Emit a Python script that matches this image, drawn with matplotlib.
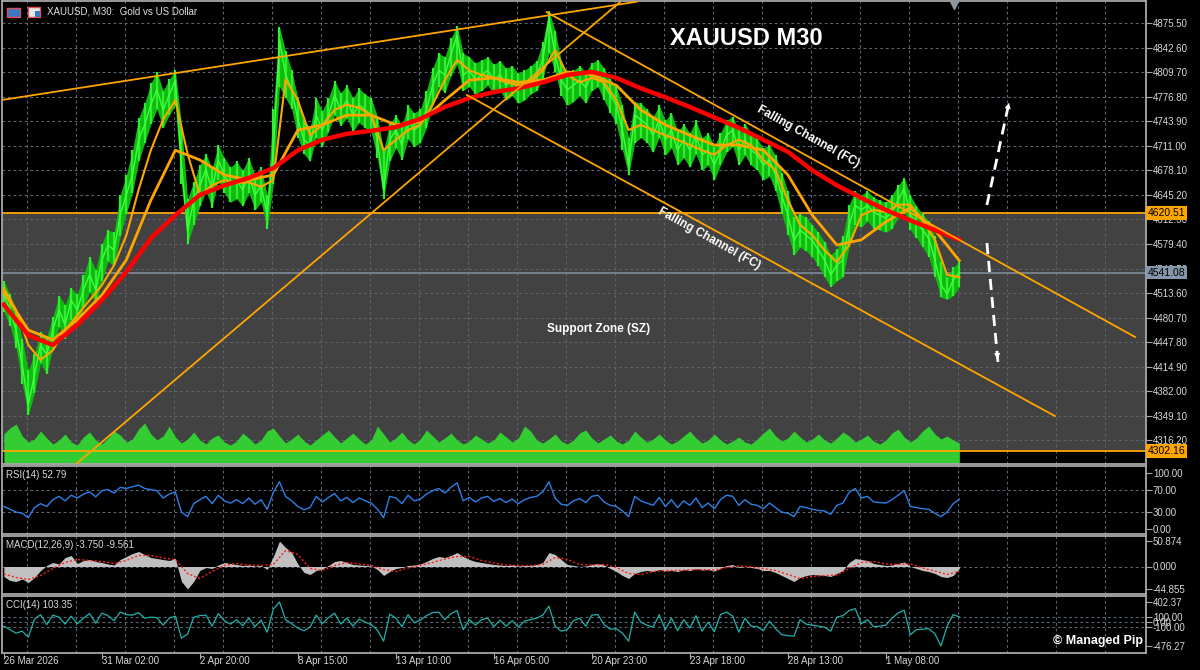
import numpy as np
import matplotlib
matplotlib.use('Agg')
import matplotlib.pyplot as plt
import matplotlib.transforms as mtransforms
from matplotlib.patches import Rectangle, FancyArrowPatch

plt.rcParams['font.family'] = ['Liberation Sans', 'DejaVu Sans']

# ---- data (one sample ~ every 6 px, 16 samples per time label)
close = [4511, 4491, 4464, 4417, 4364, 4404, 4444, 4431, 4464, 4491,
         4471, 4504, 4491, 4518, 4538, 4518, 4558, 4578, 4571, 4618,
         4645, 4672, 4719, 4739, 4766, 4786, 4759, 4779, 4799, 4685,
         4598, 4638, 4658, 4679, 4652, 4692, 4672, 4658, 4665, 4652,
         4672, 4645, 4658, 4618, 4705, 4853, 4806, 4786, 4746, 4719,
         4712, 4752, 4732, 4752, 4779, 4759, 4772, 4752, 4766, 4759,
         4752, 4719, 4652, 4719, 4732, 4712, 4746, 4732, 4739, 4759,
         4792, 4812, 4806, 4833, 4859, 4806, 4812, 4799, 4806, 4812,
         4799, 4806, 4792, 4799, 4786, 4792, 4799, 4806, 4826, 4882,
         4833, 4799, 4786, 4792, 4799, 4789, 4806, 4810, 4792, 4779,
         4766, 4732, 4685, 4752, 4746, 4739, 4725, 4746, 4719, 4732,
         4705, 4719, 4705, 4725, 4699, 4705, 4685, 4705, 4725, 4732,
         4705, 4719, 4705, 4699, 4685, 4692, 4672, 4645, 4618, 4584,
         4598, 4591, 4584, 4571, 4558, 4538, 4551, 4558, 4605, 4631,
         4625, 4631, 4622, 4618, 4614, 4622, 4638, 4654, 4618, 4609,
         4598, 4587, 4558, 4525, 4512, 4531, 4541.08]

high = [4530, 4512, 4490, 4452, 4410, 4432, 4462, 4455, 4482, 4510,
        4498, 4520, 4512, 4538, 4562, 4545, 4580, 4598, 4595, 4645,
        4672, 4705, 4748, 4768, 4795, 4810, 4785, 4800, 4812, 4740,
        4640, 4662, 4685, 4700, 4680, 4712, 4695, 4682, 4690, 4678,
        4695, 4672, 4682, 4645, 4760, 4870, 4838, 4812, 4775, 4745,
        4735, 4775, 4758, 4775, 4798, 4782, 4792, 4775, 4788, 4780,
        4775, 4750, 4705, 4740, 4752, 4738, 4765, 4755, 4760, 4785,
        4815, 4835, 4830, 4855, 4872, 4835, 4830, 4822, 4826, 4830,
        4820, 4825, 4815, 4818, 4808, 4812, 4818, 4825, 4850, 4892,
        4865, 4825, 4808, 4812, 4818, 4810, 4822, 4826, 4815, 4800,
        4790, 4765, 4722, 4770, 4768, 4760, 4750, 4765, 4745, 4755,
        4730, 4740, 4728, 4745, 4722, 4728, 4710, 4728, 4745, 4750,
        4732, 4740, 4728, 4720, 4708, 4712, 4698, 4675, 4650, 4615,
        4620, 4615, 4605, 4595, 4582, 4565, 4572, 4590, 4632, 4650,
        4645, 4650, 4642, 4638, 4635, 4645, 4658, 4668, 4645, 4630,
        4620, 4610, 4590, 4555, 4535, 4548, 4555]

low = [4488, 4470, 4440, 4392, 4350, 4380, 4420, 4405, 4440, 4468,
       4452, 4478, 4470, 4495, 4515, 4500, 4530, 4556, 4550, 4590,
       4620, 4648, 4690, 4715, 4740, 4760, 4735, 4752, 4765, 4660,
       4580, 4605, 4630, 4650, 4628, 4665, 4648, 4635, 4640, 4630,
       4648, 4625, 4635, 4600, 4660, 4790, 4775, 4760, 4722, 4700,
       4690, 4722, 4710, 4730, 4752, 4738, 4748, 4730, 4742, 4735,
       4728, 4695, 4640, 4690, 4708, 4692, 4720, 4710, 4715, 4735,
       4765, 4790, 4782, 4805, 4820, 4785, 4790, 4780, 4785, 4792,
       4780, 4785, 4772, 4778, 4768, 4772, 4780, 4785, 4800, 4835,
       4810, 4778, 4765, 4770, 4778, 4768, 4785, 4790, 4772, 4755,
       4740, 4705, 4672, 4715, 4722, 4715, 4702, 4722, 4698, 4708,
       4685, 4695, 4682, 4700, 4678, 4685, 4665, 4685, 4702, 4710,
       4685, 4698, 4685, 4678, 4665, 4670, 4650, 4620, 4592, 4565,
       4575, 4570, 4562, 4550, 4535, 4522, 4530, 4535, 4575, 4605,
       4602, 4610, 4600, 4598, 4595, 4600, 4615, 4625, 4598, 4588,
       4575, 4562, 4535, 4508, 4505, 4510, 4522]

# fast orange MA, every 2nd sample
ma_fast = [4520, 4491, 4444, 4424, 4437, 4464, 4484, 4504, 4524, 4551,
           4591, 4652, 4705, 4746, 4772, 4700, 4645, 4658, 4665, 4661,
           4662, 4656, 4665, 4800, 4772, 4725, 4739, 4759, 4766, 4762,
           4752, 4705, 4719, 4732, 4739, 4766, 4799, 4826, 4812, 4806,
           4802, 4796, 4792, 4796, 4812, 4839, 4806, 4796, 4802, 4796,
           4772, 4732, 4739, 4732, 4725, 4719, 4712, 4705, 4699, 4712,
           4719, 4712, 4692, 4678, 4638, 4605, 4591, 4571, 4555, 4578,
           4618, 4625, 4622, 4632, 4632, 4611, 4585, 4538, 4535]

# slow orange MA, every 4th sample
ma_slow = [4515, 4464, 4451, 4478, 4511, 4558, 4638, 4705, 4692, 4672,
           4665, 4672, 4732, 4739, 4752, 4752, 4739, 4743, 4772, 4799,
           4802, 4796, 4799, 4810, 4806, 4792, 4759, 4739, 4725, 4712,
           4712, 4705, 4672, 4618, 4578, 4585, 4609, 4628, 4598, 4557]

# red MA, every 4th sample
ma_red = [4498, 4457, 4444, 4471, 4504, 4542, 4587, 4618, 4645, 4658,
          4668, 4681, 4705, 4719, 4727, 4731, 4736, 4747, 4763, 4775,
          4783, 4788, 4796, 4806, 4810, 4802, 4788, 4776, 4763, 4749,
          4735, 4719, 4703, 4678, 4658, 4641, 4625, 4611, 4598, 4585]

# tick volume (thousands)
volume = [30, 36, 40, 28, 22, 25, 33, 26, 20, 24,
          30, 22, 19, 27, 32, 24, 20, 26, 33, 29,
          22, 25, 35, 41, 30, 24, 28, 38, 27, 21,
          25, 32, 24, 20, 26, 29, 22, 19, 23, 31,
          26, 20, 24, 33, 36, 28, 21, 25, 30, 23,
          19, 24, 29, 34, 27, 21, 26, 31, 25, 20,
          24, 38, 30, 22, 26, 32, 24, 20, 25, 34,
          28, 22, 26, 31, 24, 20, 23, 29, 25, 21,
          24, 32, 27, 22, 26, 38, 33, 24, 21, 25,
          30, 23, 20, 24, 31, 34, 26, 21, 25, 29,
          23, 20, 24, 33, 27, 22, 25, 30, 24, 20,
          23, 28, 33, 26, 21, 24, 30, 24, 20, 23,
          27, 22, 20, 25, 31, 36, 28, 23, 26, 33,
          27, 22, 25, 30, 24, 21, 26, 32, 28, 22,
          25, 29, 23, 20, 24, 31, 35, 27, 22, 26,
          33, 38, 30, 25, 28, 24, 21]

rsi = [40, 35, 30, 28, 20, 38, 45, 40, 52, 58,
       50, 60, 55, 62, 66, 57, 68, 70, 64, 74,
       72, 75, 78, 72, 70, 68, 55, 62, 66, 30,
       22, 45, 52, 58, 45, 60, 50, 46, 52, 45,
       55, 44, 52, 35, 65, 84, 58, 50, 40, 34,
       38, 58, 48, 56, 63, 50, 56, 47, 55, 50,
       46, 35, 20, 58, 55, 45, 60, 50, 53, 62,
       68, 72, 64, 74, 82, 50, 56, 48, 55, 58,
       49, 54, 47, 53, 45, 52, 56, 58, 66, 84,
       55, 44, 42, 50, 54, 47, 58, 60, 48, 42,
       40, 32, 22, 58, 50, 46, 42, 56, 40, 52,
       38, 50, 42, 55, 38, 46, 36, 52, 60, 58,
       42, 52, 44, 42, 36, 46, 38, 30, 28, 22,
       40, 38, 35, 33, 32, 26, 42, 46, 65, 72,
       55, 58, 48, 47, 46, 52, 60, 68, 40, 38,
       36, 35, 28, 22, 30, 45, 52.79]

macd = [-20, -28, -30, -25, -32, -22, -8, 2, 8, 5,
        18, 22, 6, 12, 14, 10, 8, 5, 3, 14,
        20, 26, 30, 24, 18, 16, 14, 12, 16, -30,
        -44.855, -30, -8, -2, -4, 3, 8, 6, 4, 2,
        3, 1, 2, -6, 20, 50.874, 38, 28, 5, -12,
        -16, -8, -5, 2, 10, 12, 8, 4, 3, 2,
        1, -6, -18, -10, -4, -2, 2, 3, 5, 10,
        16, 20, 18, 22, 28, 20, 14, 10, 8, 6,
        4, 3, 2, 3, 1, 2, 2, 4, 8, 28,
        24, 14, 4, 2, 0, 1, 4, 6, 3, -4,
        -10, -18, -24, -14, -10, -8, -10, -6, -9, -8,
        -10, -6, -8, -4, -7, -6, -9, -4, 2, 4,
        -2, 0, -2, -4, -8, -8, -12, -18, -24, -30,
        -22, -18, -16, -17, -18, -20, -14, -8, 8, 16,
        14, 12, 6, 4, 2, 3, 6, 9, 0, -4,
        -8, -10, -14, -20, -22, -18, -3.75]

# signal line, every 2nd sample
macd_signal = [-15, -22, -26, -18, -4, 8, 14, 12, 10, 6,
               12, 22, 22, 17, 14, -14, -24, -10, 2, 6,
               3, 2, 4, 32, 24, -4, -8, 2, 8, 5,
               2, -6, -10, -3, 2, 8, 15, 20, 20, 12,
               7, 3, 2, 2, 4, 18, 14, 4, 3, 4,
               -2, -14, -16, -10, -8, -8, -7, -6, -7, -2,
               1, -1, -4, -8, -16, -24, -20, -18, -17, -4,
               8, 10, 5, 4, 5, -3, -9, -16, -9.561]

cci = [-80, -150, -220, -180, -300, 60, 150, -50, 140, 100,
       -40, 120, -30, 80, 170, -20, 180, 130, 30, 200,
       150, 140, 190, 80, 100, 90, -60, 80, 120, -320,
       -240, 100, 130, 140, -80, 170, 30, -40, 50, -70,
       80, -90, 40, -200, 260, 402.37, 50, -30, -120, -170,
       -100, 140, -30, 90, 180, -40, 80, -80, 60, 0,
       -50, -160, -380, 160, 80, -90, 150, -10, 40, 130,
       190, 200, 50, 170, 230, -150, 50, -60, 50, 80,
       -90, 40, -80, 30, -100, 20, 50, 80, 140, 320,
       -80, -180, -150, 30, 80, -80, 140, 150, -50, -140,
       -130, -220, -380, 200, 0, -60, -100, 150, -150, 80,
       -170, 50, -120, 130, -180, 0, -190, 150, 200, 120,
       -200, 80, -80, -90, -170, 20, -130, -250, -270, -280,
       50, -40, -60, -80, -100, -180, 100, 130, 230, 270,
       -30, 50, -90, -80, -60, 80, 180, 240, -250, -150,
       -140, -130, -230, -476.27, -80, 150, 103.35]

time_labels = ['26 Mar 2026', '31 Mar 02:00', '2 Apr 20:00', '8 Apr 15:00',
               '13 Apr 10:00', '16 Apr 05:00', '20 Apr 23:00', '23 Apr 18:00',
               '28 Apr 13:00', '1 May 08:00']
price_ticks = [4875.50, 4842.60, 4809.70, 4776.80, 4743.90, 4711.00, 4678.10,
               4645.20, 4612.30, 4579.40, 4546.50, 4513.60, 4480.70, 4447.80,
               4414.90, 4382.00, 4349.10, 4316.20]

zone_top = 4620.51
zone_bottom = 4302.16
last_price = 4541.08

# trend lines as (sample, price) anchors
top_line = [(-0.6, 4772.0), (103.3, 4904.0)]
rising_line = [(11.6, 4283.2), (100.6, 4903.6)]
fc_upper = [(88.6, 4890.2), (184.7, 4454.7)]
fc_lower = [(75.6, 4779.0), (171.6, 4348.8)]
arrow_up = [(160.5, 4631.6), (164.2, 4772.3)]
arrow_down = [(160.5, 4580.7), (162.3, 4421.2)]

# ---- layout
W, H = 1200, 670
XMIN = -0.3
XMAX = XMIN + 1144 / 6.125
GRID = '#5a6470'
xs = np.arange(len(close))

fig = plt.figure(figsize=(12, 6.7), dpi=100, facecolor='black')


def panel(top, bottom):
    ax = fig.add_axes([2 / W, 1 - bottom / H, 1144 / W, (bottom - top) / H])
    ax.set_facecolor('black')
    for s in ax.spines.values():
        s.set_color('#a8a8a8')
        s.set_linewidth(1.3)
    ax.yaxis.tick_right()
    ax.tick_params(axis='y', colors='#a8a8a8', labelcolor='#d8d8d8',
                   labelsize=7, length=4, width=0.8, pad=1)
    ax.tick_params(axis='x', bottom=False, labelbottom=False)
    ax.set_xlim(XMIN, XMAX)
    for g in np.arange(3.75, XMAX, 8):
        ax.axvline(g, color=GRID, lw=0.8, ls=(0, (2.5, 2.5)), zorder=0.5)
    return ax


ax = panel(1, 464)
rsi_ax = panel(466, 534)
macd_ax = panel(536, 594)
cci_ax = panel(596, 653)

# ---- main price panel
y0, y1 = 4284.5, 4905.0
ax.set_ylim(y0, y1)
ax.set_yticks(price_ticks)
ax.set_yticklabels(['%.2f' % p for p in price_ticks])
for p in price_ticks:
    ax.axhline(p, color=GRID, lw=0.8, ls=(0, (2.5, 2.5)), zorder=0.5)

ax.axhspan(zone_bottom, zone_top, color='#424242', lw=0, zorder=0)

vol_top = y0 + np.array(volume) * (y1 - y0) / 463
ax.fill_between(xs, y0, vol_top, color='#33cc33', lw=0, zorder=1)

ax.axhline(zone_top, color='#ffa500', lw=1.3, zorder=2)
ax.axhline(zone_bottom, color='#ffa500', lw=1.3, zorder=2)
ax.axhline(last_price, color='#7d8b99', lw=1.2, zorder=2)

# price bars: high-low range, bar sticks and the close line
ax.fill_between(xs, low, high, color='#12b812', lw=0, zorder=3)
ax.vlines(xs, low, high, color='#2cf02c', lw=1.6, zorder=3.05)
ax.plot(xs, close, color='#40ff40', lw=1.0, zorder=3.1)
ax.plot(xs[::4], ma_slow, color='#ffa500', lw=2.0, zorder=4)
ax.plot(xs[::2], ma_fast, color='#ffa500', lw=1.5, zorder=4)
ax.plot(xs[::4], ma_red, color='#ff0000', lw=3.2, zorder=4.2)

for line in (top_line, rising_line, fc_upper, fc_lower):
    ax.plot([line[0][0], line[1][0]], [line[0][1], line[1][1]],
            color='#ffa500', lw=1.3, zorder=5)

for (tx, ty), (hx, hy) in (arrow_up, arrow_down):
    ax.plot([tx, hx], [ty, hy], color='white', lw=2, ls=(0, (4, 2.5)), zorder=6)
    ax.add_patch(FancyArrowPatch((tx + (hx - tx) * 0.85, ty + (hy - ty) * 0.85), (hx, hy),
                                 arrowstyle='-|>', mutation_scale=11, color='white',
                                 lw=0, zorder=6))

ax.text(121.3, 4855.4, 'XAUUSD M30', color='white', fontsize=17,
        fontweight='bold', ha='center', va='center', zorder=7)
ax.text(131.3, 4722.7, 'Falling Channel (FC)', color='white', fontsize=8.5,
        fontweight='bold', rotation=-29, rotation_mode='anchor',
        ha='center', va='center', zorder=7)
ax.text(115.1, 4586.0, 'Falling Channel (FC)', color='white', fontsize=8.5,
        fontweight='bold', rotation=-29, rotation_mode='anchor',
        ha='center', va='center', zorder=7)
ax.text(97.1, 4465.4, 'Support Zone (SZ)', color='white', fontsize=8.5,
        fontweight='bold', ha='center', va='center', zorder=7)

right = mtransforms.blended_transform_factory(ax.transAxes, ax.transData)
for val, fc in ((zone_top, '#ffa500'), (zone_bottom, '#ffa500'), (last_price, '#8497ab')):
    ax.text(1.0015, val, '%.2f' % val, transform=right, ha='left', va='center',
            fontsize=7.5, color='black', clip_on=False, zorder=10,
            bbox=dict(boxstyle='square,pad=0.18', fc=fc, ec='none'))

ax.plot([155.1], [0.993], marker='v', ms=7, color='#8e969e',
        transform=ax.get_xaxis_transform(), clip_on=False, zorder=8)

# ---- RSI
rsi_ax.plot(xs, rsi, color='#2e7fe6', lw=1.0)
rsi_ax.set_ylim(-9, 112)
rsi_ax.set_yticks([100, 70, 30, 0])
rsi_ax.set_yticklabels(['100.00', '70.00', '30.00', '0.00'])
for lv in (70, 30):
    rsi_ax.axhline(lv, color=GRID, lw=0.8, ls=(0, (2.5, 2.5)), zorder=0.5)
rsi_ax.text(4 / 1144, 1 - 9 / 68, 'RSI(14) 52.79', transform=rsi_ax.transAxes,
            color='#d8d8d8', fontsize=7, va='center')

# ---- MACD
macd_ax.fill_between(xs, 0, macd, color='#c0c0c0', lw=0, zorder=1)
macd_ax.plot(xs[::2], macd_signal, color='#ff2020', lw=1.0, ls=(0, (1.5, 1.5)), zorder=2)
macd_ax.set_ylim(-55, 61)
macd_ax.set_yticks([50.874, 0, -44.855])
macd_ax.set_yticklabels(['50.874', '0.000', '-44.855'])
macd_ax.axhline(0, color=GRID, lw=0.8, ls=(0, (2.5, 2.5)), zorder=0.5)
macd_ax.text(4 / 1144, 1 - 9 / 58, 'MACD(12,26,9) -3.750 -9.561', transform=macd_ax.transAxes,
             color='#d8d8d8', fontsize=7, va='center', zorder=3)

# ---- CCI
cci_ax.plot(xs, cci, color='#20b2aa', lw=0.9)
cci_ax.set_ylim(-616, 522)
cci_ax.set_yticks([402.37, 100, 0, -100, -476.27])
cci_ax.set_yticklabels(['402.37', '100.00', '0.00', '-100.00', '-476.27'])
for lv in (100, 0, -100):
    cci_ax.axhline(lv, color=GRID, lw=0.8, ls=(0, (2.5, 2.5)), zorder=0.5)
cci_ax.text(4 / 1144, 1 - 9 / 57, 'CCI(14) 103.35', transform=cci_ax.transAxes,
            color='#d8d8d8', fontsize=7, va='center')

cci_ax.set_xticks(np.arange(len(time_labels)) * 16)
cci_ax.set_xticklabels(time_labels, ha='left')
cci_ax.tick_params(axis='x', bottom=True, labelbottom=True, colors='#a8a8a8',
                   labelcolor='#d8d8d8', labelsize=7, length=4, width=0.8, pad=-2)

fig.text(1143 / W, 1 - 641 / H, '\u00a9 Managed Pip', color='white', fontsize=9,
         fontweight='bold', ha='right', va='center')

# ---- header
fig.text(47 / W, 1 - 12 / H, 'XAUUSD, M30:  Gold vs US Dollar', color='#e0e0e0',
         fontsize=7, va='center')
fig.add_artist(Rectangle((7 / W, 1 - 17 / H), 13 / W, 9 / H, transform=fig.transFigure,
                         fc='#3a78c8', ec='#e05050', lw=1))
fig.add_artist(Rectangle((28 / W, 1 - 17 / H), 12 / W, 10 / H, transform=fig.transFigure,
                         fc='#e8e8e8', ec='#e05050', lw=1))
fig.add_artist(Rectangle((35 / W, 1 - 17 / H), 5 / W, 6 / H, transform=fig.transFigure,
                         fc='#3a78c8', ec='none'))

fig.savefig('out.png', dpi=100, facecolor='black')
